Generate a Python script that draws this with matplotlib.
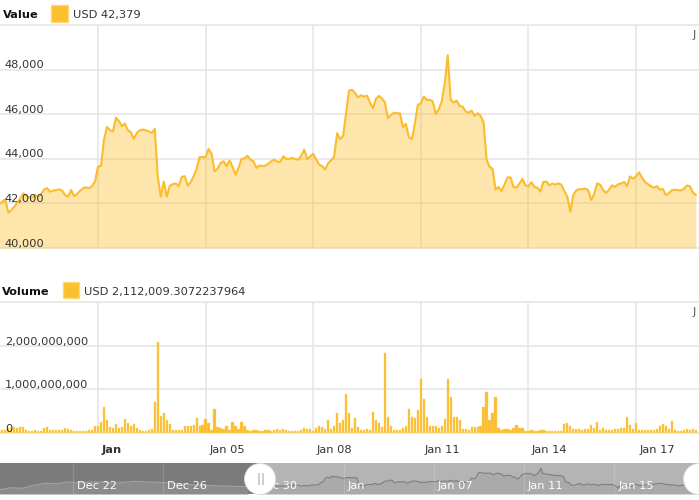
import matplotlib
matplotlib.use("Agg")
import matplotlib.pyplot as plt
import matplotlib.dates as mdates
import matplotlib.transforms as mtransforms
from matplotlib.patches import Rectangle, Ellipse
import pandas as pd

# price every 2 hours, starting 2023-12-30 06:00
price_start = "2023-12-30 06:00"
price = [
    41970, 42075, 42180, 41580, 41700, 41850, 42030, 42225, 42450, 42345, 42270, 42270,
    42375, 42300, 42420, 42630, 42680, 42525, 42570, 42600, 42630, 42570, 42375, 42300,
    42600, 42330, 42420, 42570, 42680, 42720, 42680, 42780, 42980, 43650, 43680, 44860,
    45430, 45280, 45230, 45840, 45690, 45460, 45580, 45280, 45190, 44890, 45160, 45280,
    45310, 45280, 45230, 45160, 45340, 43200, 42300, 42980, 42300, 42780, 42870, 42890,
    42770, 43190, 43220, 42800, 42950, 43220, 43550, 44080, 44070, 44080, 44440, 44230,
    43440, 43550, 43810, 43890, 43670, 43930, 43640, 43290, 43590, 43990, 44020, 44140,
    43960, 43890, 43590, 43700, 43670, 43700, 43780, 43890, 43960, 43870, 43870, 44110,
    43990, 43990, 44040, 43990, 43960, 44140, 44410, 43990, 44110, 44230, 43960, 43740,
    43670, 43520, 43810, 43930, 44110, 45150, 44880, 45030, 46040, 47060, 47090, 46940,
    46760, 46850, 46790, 46830, 46520, 46270, 46700, 46820, 46710, 46520, 45820, 45960,
    46070, 46040, 46040, 45420, 45570, 44970, 44880, 45570, 46420, 46490, 46790, 46640,
    46640, 46570, 46010, 46220, 46570, 47380, 48650, 46640, 46520, 46610, 46370, 46340,
    46120, 46070, 46160, 45930, 46040, 45930, 45630, 43960, 43640, 43550, 42620, 42740,
    42550, 42850, 43160, 43170, 42740, 42700, 42890, 43100, 42810, 42770, 42950, 42740,
    42710, 42530, 42960, 42980, 42810, 42890, 42840, 42900, 42840, 42560, 42300, 41630,
    42370, 42590, 42640, 42640, 42670, 42590, 42150, 42410, 42900, 42840, 42590, 42470,
    42620, 42810, 42740, 42860, 42890, 42960, 42770, 43210, 43110, 43210, 43390, 43160,
    42960, 42860, 42770, 42710, 42770, 42620, 42640, 42360, 42470, 42590, 42620, 42590,
    42580, 42650, 42800, 42770, 42500, 42380,
]

# volume in millions USD, same 2 hour steps
volume_m = [
    75, 70, 80, 110, 120, 130, 110, 140, 140, 60, 55, 55,
    60, 50, 55, 120, 135, 70, 75, 60, 80, 70, 110, 100,
    60, 50, 45, 55, 50, 55, 60, 70, 165, 165, 263, 600,
    300, 140, 113, 210, 113, 130, 316, 230, 150, 203, 113, 60,
    55, 50, 70, 100, 714, 2090, 391, 466, 300, 210, 80, 70,
    75, 60, 150, 150, 165, 190, 338, 150, 190, 316, 226, 75,
    541, 135, 113, 90, 150, 75, 263, 150, 90, 263, 150, 75,
    53, 60, 75, 53, 53, 75, 60, 53, 75, 90, 60, 90,
    60, 53, 53, 45, 53, 75, 113, 98, 90, 53, 113, 150,
    135, 90, 300, 90, 165, 451, 226, 300, 902, 451, 113, 338,
    135, 75, 75, 90, 75, 474, 300, 226, 135, 1842, 376, 165,
    75, 75, 60, 113, 165, 541, 361, 338, 526, 1241, 790, 376,
    150, 150, 150, 113, 150, 316, 1241, 827, 361, 376, 300, 90,
    90, 60, 135, 128, 135, 150, 600, 940, 300, 451, 827, 113,
    75, 90, 90, 75, 113, 188, 105, 113, 53, 53, 60, 53,
    53, 60, 75, 45, 53, 45, 38, 38, 45, 203, 226, 165,
    90, 90, 90, 75, 90, 90, 188, 113, 263, 75, 113, 75,
    75, 75, 90, 90, 113, 113, 376, 188, 90, 240, 75, 60,
    60, 60, 60, 60, 90, 150, 210, 150, 90, 286, 75, 53,
    53, 75, 90, 60, 90, 60,
]

# older prices shown only in the scrollbar, every 12 hours
scroll_start = "2023-12-18 18:00"
scroll_price = [
    41060, 41760, 41550, 42590, 43290, 43150, 43750, 43500, 43750, 43750, 43290, 43640,
    43990, 43750, 43640, 43500, 43050, 42800, 42700, 42450, 42350, 42240, 42100,
]

value_ticks = [40000, 42000, 44000, 46000, 48000, 50000]
volume_ticks = [0, 1e9, 2e9, 3e9]
day_labels = ["Jan", "Jan 05", "Jan 08", "Jan 11", "Jan 14", "Jan 17"]
scroll_labels = ["Dec 22", "Dec 26", "Dec 30", "Jan", "Jan 07", "Jan 11", "Jan 15"]

times = pd.date_range(price_start, periods=len(price), freq="2h")
scroll_times = pd.date_range(scroll_start, periods=len(scroll_price), freq="12h")
volume = [v * 1e6 for v in volume_m]
grid_days = pd.date_range("2024-01-02", periods=len(day_labels), freq="3D")
scroll_days = pd.date_range("2023-12-22", periods=len(scroll_labels), freq="4D")

x_min = mdates.date2num(pd.Timestamp("2023-12-30 06:26"))
x_max = mdates.date2num(pd.Timestamp("2024-01-18 18:07"))
s_min = mdates.date2num(pd.Timestamp("2023-12-18 18:15"))
s_max = mdates.date2num(pd.Timestamp("2024-01-18 18:15"))

yellow = "#fbbd2b"
grid_color = "#e4e4e4"
text_color = "#333333"
fs = 8.2

plt.rcParams["font.family"] = ["DejaVu Sans"]

fig = plt.figure(figsize=(6.99, 5.0), dpi=100)
fig.patch.set_facecolor("white")

ax1 = fig.add_axes([0, 0.504, 1, 0.446])
ax2 = fig.add_axes([0, 0.134, 1, 0.262])
ax3 = fig.add_axes([0, 0.012, 1, 0.062])

for ax in (ax1, ax2):
    for s in ax.spines.values():
        s.set_visible(False)
    ax.set_xticks([])
    ax.set_yticks([])
    ax.set_xlim(x_min, x_max)
    for d in grid_days:
        ax.axvline(mdates.date2num(d), color=grid_color, lw=1.1, zorder=0)

lift = mtransforms.offset_copy(ax1.get_yaxis_transform(), fig=fig, y=1.5, units="dots")
for v in value_ticks:
    ax1.axhline(v, color=grid_color, lw=1.1, zorder=0, clip_on=False)
    if v < value_ticks[-1]:
        ax1.text(0.007, v, f"{v:,}", transform=lift, ha="left", va="baseline",
                 fontsize=fs, color=text_color, zorder=5)

tnum = mdates.date2num(times)
ax1.fill_between(tnum, price, 40000, color="#fbc02d", alpha=0.4, lw=0, zorder=1)
ax1.plot(tnum, price, color=yellow, lw=1.5, zorder=2)
ax1.set_ylim(40000, 50000)

lift2 = mtransforms.offset_copy(ax2.get_yaxis_transform(), fig=fig, y=1.0, units="dots")
for v in volume_ticks:
    ax2.axhline(v, color=grid_color, lw=1.1, zorder=0, clip_on=False)
    if v < volume_ticks[-1]:
        ax2.text(0.007, v, f"{int(v):,}", transform=lift2, ha="left", va="baseline",
                 fontsize=fs, color=text_color, zorder=5)

ax2.bar(tnum, volume, width=1.5 / 24, color=yellow, edgecolor="#fcd068", lw=0.3, zorder=2)
ax2.set_ylim(0, 3e9)

xlab = ax2.get_xaxis_transform()
for d, lab in zip(grid_days, day_labels):
    ax2.text(mdates.date2num(d + pd.Timedelta(hours=2.4)), -0.13, lab, transform=xlab,
             ha="left", va="center", fontsize=fs, color=text_color,
             weight="bold" if lab == "Jan" else "normal", clip_on=False)

# scrollbar
ax3.set_facecolor("#b4b4b4")
for s in ax3.spines.values():
    s.set_visible(False)
ax3.set_xticks([])
ax3.set_yticks([])
ax3.set_xlim(s_min, s_max)
ax3.set_ylim(39550, 50400)
sel_start = tnum[0]
ax3.axvspan(s_min, sel_start, color="#7b7b7b", lw=0, zorder=0)
snum = mdates.date2num(scroll_times)
ax3.fill_between(snum, scroll_price, 39550, color="#8b8b8b", lw=0, zorder=1)
ax3.plot(snum, scroll_price, color="#a3a3a3", lw=0.8, zorder=2)
ax3.fill_between(tnum, price, 39550, color="#aaaaaa", lw=0, zorder=1)
ax3.plot(tnum, price, color="#7e7e7e", lw=0.8, zorder=2)
for d, lab in zip(scroll_days, scroll_labels):
    dn = mdates.date2num(d)
    ax3.axvline(dn, color="white", alpha=0.15, lw=0.9, zorder=3)
    ax3.text(mdates.date2num(d + pd.Timedelta(hours=4.3)), 0.25, lab,
             transform=ax3.get_xaxis_transform(), ha="left", va="center",
             fontsize=fs, color="white", zorder=4)

# scrollbar grips
W, H = 699.0, 500.0
for cx in (260, 699):
    fig.add_artist(Ellipse((cx / W, 1 - 479 / H), 31 / W, 31 / H, facecolor="white",
                           edgecolor="#dddddd", lw=0.6, zorder=10))
for gx in (258, 262):
    fig.add_artist(Rectangle((gx / W, 1 - 485 / H), 1.6 / W, 12 / H, facecolor="#cfcfcf",
                             edgecolor="none", zorder=11))

# headers
fig.text(3 / W, 1 - 15 / H, "Value", weight="bold", fontsize=fs, va="center", color="#111111")
fig.add_artist(Rectangle((51 / W, 1 - 22 / H), 17 / W, 17 / H, facecolor="#fbc02d",
                         edgecolor="#fdd778", lw=1))
fig.text(73 / W, 1 - 15 / H, "USD 42,379", fontsize=fs, va="center", color=text_color)

fig.text(2 / W, 1 - 292 / H, "Volume", weight="bold", fontsize=fs, va="center", color="#111111")
fig.add_artist(Rectangle((63 / W, 1 - 298 / H), 16 / W, 16 / H, facecolor="#fbc02d",
                         edgecolor="#fdd778", lw=1))
fig.text(84 / W, 1 - 292 / H, "USD 2,112,009.3072237964", fontsize=fs, va="center",
         color=text_color)

fig.text(693 / W, 1 - 35 / H, "J", fontsize=fs, va="center", color="#555555")
fig.text(693 / W, 1 - 312 / H, "J", fontsize=fs, va="center", color="#555555")

fig.savefig("out.png", dpi=100, facecolor="white")
plt.close(fig)
